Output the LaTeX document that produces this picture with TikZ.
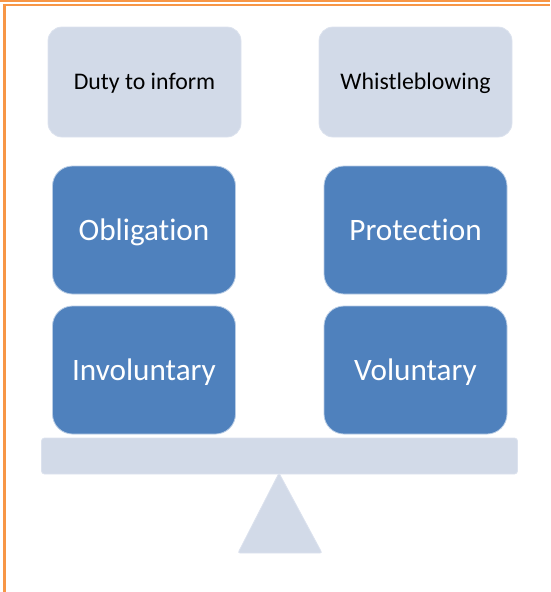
\documentclass[tikz,border=0pt]{standalone}
\usepackage{fontspec}
\setmainfont{Carlito}[Ligatures=CommonOff]
\definecolor{lightfill}{HTML}{D2DAE8}
\definecolor{lightedge}{HTML}{DCE2EE}
\definecolor{bluefill}{HTML}{4F81BD}
\definecolor{orangeline}{HTML}{F79646}
\tikzset{
  lightbox/.style={fill=lightfill, draw=lightedge, line width=0.8pt, rounded corners=14pt,
    minimum width=193pt, minimum height=110pt, inner sep=0pt, text=black,
    font=\fontsize{23.8}{28}\selectfont, text height=15.3pt, text depth=0pt},
  bluebox/.style={fill=bluefill, draw=white!60!bluefill, line width=0.8pt, rounded corners=20pt,
    minimum width=183pt, minimum height=128pt, inner sep=0pt, text=white,
    font=\fontsize{31.2}{37}\selectfont, text height=20pt, text depth=0pt},
  beambox/.style={fill=lightfill, draw=lightedge, line width=0.8pt, rounded corners=3pt,
    minimum width=476pt, minimum height=36pt, inner sep=0pt},
  frameline/.style={draw=orangeline}
}
\begin{document}
\begin{tikzpicture}[x=1pt,y=-1pt]
\useasboundingbox (0,0) rectangle (550,592);
% frame
\draw[frameline, line width=2pt] (0,1) -- (550,1);
\draw[frameline, line width=2pt] (3,5) -- (550,5);
\draw[frameline, line width=3pt] (4.5,4) -- (4.5,592);
% top boxes
\node[lightbox] (duty) at (144.5,82) {Duty to inform};
\node[lightbox] (whistle) at (415.5,82) {Whistleblowing};
% blue boxes
\node[bluebox] (oblig) at (144,230) {Obligation};
\node[bluebox] (invol) at (144,370) {Involuntary};
\node[bluebox] (prot) at (415.5,230) {Protection};
\node[bluebox] (volun) at (415.5,370) {Voluntary};
% scale
\node[beambox] (beam) at (279.5,456) {};
\draw[fill=lightfill, draw=lightedge, line width=0.8pt, rounded corners=2pt]
  (279,473) -- (322,553) -- (238,553) -- cycle;
\end{tikzpicture}
\end{document}
